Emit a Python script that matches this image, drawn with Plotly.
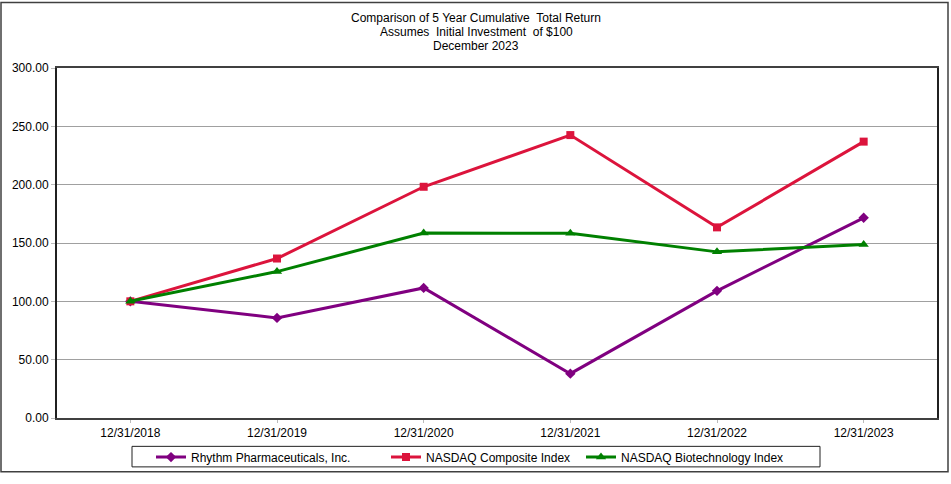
import plotly.graph_objects as go

dates = ["12/31/2018", "12/31/2019", "12/31/2020", "12/31/2021", "12/31/2022", "12/31/2023"]
rhythm = [100.00, 85.8, 111.5, 38.0, 109.0, 171.6]
nasdaq_comp = [100.00, 136.7, 198.2, 242.5, 163.4, 236.9]
nasdaq_bio = [100.00, 125.5, 158.5, 158.4, 142.4, 148.8]
y_ticks = [0, 50, 100, 150, 200, 250, 300]
title_lines = [
    "Comparison of 5 Year Cumulative  Total Return",
    "Assumes  Initial Investment  of $100",
    "December 2023",
]

W, H = 951, 484
L, R, T, B = 57, 14, 68, 58
pw, ph = W - L - R, H - T - B

def px(x):
    return (x - L) / pw

def py(y):
    return (H - B - y) / ph

font = "Liberation Sans, Arial, sans-serif"

fig = go.Figure()
series = [
    ("Rhythm Pharmaceuticals, Inc.", rhythm, "#800080", "diamond", 8, "legend", 151),
    ("NASDAQ Composite Index", nasdaq_comp, "#DC143C", "square", 8, "legend2", 386),
    ("NASDAQ Biotechnology Index", nasdaq_bio, "#008000", "triangle-up", 9, "legend3", 581),
]
legends = {}
for name, vals, col, sym, sz, lg, lx in series:
    fig.add_trace(go.Scatter(
        x=dates, y=vals, name=name, mode="lines+markers",
        line=dict(color=col, width=3),
        marker=dict(symbol=sym, size=sz, color=col),
        legend=lg,
    ))
    legends[lg] = dict(
        orientation="h", x=px(lx), y=py(466), xanchor="left", yanchor="middle",
        borderwidth=0, bgcolor="rgba(0,0,0,0)",
        font=dict(family=font, size=12), itemwidth=30,
    )

annotations = [
    dict(text=line, x=px(476), xref="paper", xanchor="center",
         y=py(yc), yref="paper", yanchor="middle",
         showarrow=False, font=dict(family=font, size=12))
    for line, yc in zip(title_lines, [17, 31, 45])
]

fig.update_layout(
    width=W, height=H, autosize=False,
    margin=dict(l=L, r=R, t=T, b=B, pad=0),
    paper_bgcolor="white", plot_bgcolor="white",
    font=dict(family=font, size=12, color="#000000"),
    showlegend=True,
    annotations=annotations,
    shapes=[
        dict(type="rect", xref="paper", yref="paper",
             x0=px(1), x1=px(948), y0=py(481), y1=py(1),
             line=dict(color="#404040", width=1.5)),
        dict(type="rect", xref="paper", yref="paper",
             x0=px(132), x1=px(820), y0=py(476), y1=py(455),
             line=dict(color="#202020", width=1)),
    ],
    **legends,
)
fig.update_xaxes(
    type="category", range=[-0.5, 5.5],
    showline=True, linecolor="#404040", linewidth=2, mirror=True,
    showgrid=False, ticks="outside", ticklen=3, tickcolor="#bbbbbb",
    tickfont=dict(family=font, size=12),
)
fig.update_yaxes(
    range=[0, 300], tickvals=y_ticks,
    ticktext=[f"{v:.2f}" for v in y_ticks],
    showline=True, linecolor="#202020", linewidth=2, mirror=True,
    showgrid=True, gridcolor="#a0a0a0", gridwidth=1,
    ticks="outside", ticklen=4, tickcolor="#bbbbbb",
    tickfont=dict(family=font, size=12), zeroline=False,
)

post = (
    "var d=document.documentElement,b=document.body;"
    "d.style.margin='0';d.style.padding='0';d.style.overflow='hidden';"
    "b.style.margin='0';b.style.padding='0';b.style.overflow='hidden';"
)
fig.write_html("out.html", post_script=post,
               config={"displayModeBar": False, "responsive": False})
